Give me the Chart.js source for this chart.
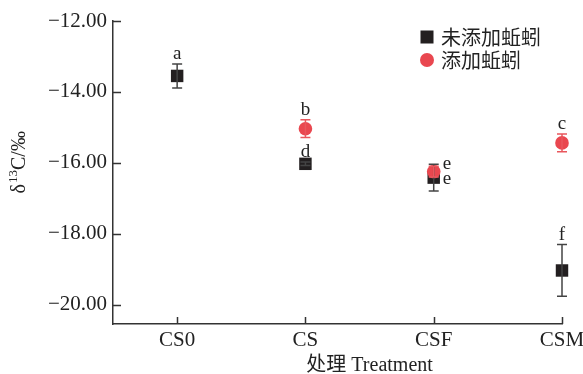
<!DOCTYPE html>
<html>
<head>
<meta charset="utf-8">
<script src="https://cdn.jsdelivr.net/npm/chart.js@4.4.1/dist/chart.umd.min.js"></script>
<style>
html, body { margin: 0; padding: 0; background: #fff; }
#wrap { width: 583px; height: 374px; }
</style>
</head>
<body>
<div id="wrap"><canvas id="deltaChart"></canvas></div>
<script>
var categories = ['CS0', 'CS', 'CSF', 'CSM'];
var yTicks = [-20, -18, -16, -14, -12];

// 未添加蚯蚓
var noWormMean = [-13.55, -16.03, -16.42, -19.04];
var noWormErr = [0.34, 0.05, 0.38, 0.73];
var noWormLetter = ['a', 'd', 'e', 'f'];

// 添加蚯蚓
var wormMean = [null, -15.04, -16.25, -15.44];
var wormErr = [null, 0.25, 0.15, 0.25];
var wormLetter = [null, 'b', 'e', 'c'];

var BLACK = '#231f20';
var RED = '#e9474f';
var AXIS = '#333333';
var SERIF = '"Liberation Serif", "Times New Roman", serif';
var CJK = '"Liberation Serif", "Noto Sans CJK SC", sans-serif';

function toPoints(values) {
    var pts = [];
    values.forEach(function (v, i) {
        if (v !== null) { pts.push({ x: i, y: v }); }
    });
    return pts;
}

// error bars, letters, inward ticks, axis titles, legend
var decorations = {
    id: 'decorations',
    afterDatasetsDraw: function (chart) {
        var ctx = chart.ctx;
        var xs = chart.scales.x, ys = chart.scales.y;
        chart.data.datasets.forEach(function (ds) {
            ds.means.forEach(function (m, i) {
                if (m === null) { return; }
                var px = xs.getPixelForValue(i);
                var top = ys.getPixelForValue(m + ds.errs[i]);
                var bot = ys.getPixelForValue(m - ds.errs[i]);
                ctx.save();
                ctx.strokeStyle = ds.barColor;
                ctx.lineWidth = 1.5;
                ctx.beginPath();
                ctx.moveTo(px, top); ctx.lineTo(px, bot);
                ctx.moveTo(px - 5, top); ctx.lineTo(px + 5, top);
                ctx.moveTo(px - 5, bot); ctx.lineTo(px + 5, bot);
                ctx.stroke();
                ctx.restore();
            });
        });
        // significance letters
        ctx.save();
        ctx.font = '19px ' + SERIF;
        ctx.fillStyle = '#222';
        chart.data.datasets.forEach(function (ds) {
            ds.letters.forEach(function (t, i) {
                if (!t) { return; }
                var px = xs.getPixelForValue(i);
                var py = ys.getPixelForValue(ds.means[i]);
                var top = ys.getPixelForValue(ds.means[i] + ds.errs[i]);
                if (categories[i] === 'CSF') {
                    ctx.textAlign = 'left';
                    ctx.textBaseline = 'alphabetic';
                    ctx.fillText(t, px + 9, ds.isWorm ? py - 3 : py + 6);
                } else {
                    ctx.textAlign = 'center';
                    ctx.textBaseline = 'alphabetic';
                    ctx.fillText(t, px, top - 5);
                }
            });
        });
        ctx.restore();
    },
    afterDraw: function (chart) {
        var ctx = chart.ctx;
        var xs = chart.scales.x, ys = chart.scales.y;
        var area = chart.chartArea;
        ctx.save();
        ctx.strokeStyle = AXIS;
        ctx.lineWidth = 1.5;
        ctx.beginPath();
        yTicks.forEach(function (v) {
            var py = Math.round(ys.getPixelForValue(v)) + 0.5;
            ctx.moveTo(area.left, py); ctx.lineTo(area.left + 8, py);
        });
        categories.forEach(function (c, i) {
            var px = Math.round(xs.getPixelForValue(i)) + 0.5;
            ctx.moveTo(px, area.bottom); ctx.lineTo(px, area.bottom - 7);
        });
        ctx.stroke();

        // x title
        ctx.fillStyle = '#222';
        ctx.font = '20px ' + CJK;
        ctx.textAlign = 'center';
        ctx.textBaseline = 'middle';
        ctx.fillText('处理 Treatment', xs.getPixelForValue(1.5), area.bottom + 42);

        // y title with superscript
        ctx.save();
        ctx.translate(20, ys.getPixelForValue(-16));
        ctx.rotate(-Math.PI / 2);
        ctx.textAlign = 'left';
        ctx.textBaseline = 'middle';
        var big = '20px ' + SERIF, small = '13px ' + SERIF;
        ctx.font = big;
        var w1 = ctx.measureText('δ').width;
        var w3 = ctx.measureText('C/‰').width;
        ctx.font = small;
        var w2 = ctx.measureText('13').width;
        var x0 = -(w1 + w2 + w3) / 2;
        ctx.font = big;
        ctx.fillText('δ', x0, 0);
        ctx.font = small;
        ctx.fillText('13', x0 + w1 + 1, -6);
        ctx.font = big;
        ctx.fillText('C/‰', x0 + w1 + w2 + 1, 0);
        ctx.restore();

        // legend
        var lx = area.right - 135, ly = area.top + 16;
        ctx.fillStyle = BLACK;
        ctx.fillRect(lx - 6.5, ly - 6.5, 13, 13);
        ctx.fillStyle = RED;
        ctx.beginPath();
        ctx.arc(lx, ly + 23, 7, 0, Math.PI * 2);
        ctx.fill();
        ctx.fillStyle = '#222';
        ctx.font = '20px "Noto Sans CJK SC", sans-serif';
        ctx.textAlign = 'left';
        ctx.textBaseline = 'middle';
        ctx.fillText('未添加蚯蚓', lx + 14, ly);
        ctx.fillText('添加蚯蚓', lx + 14, ly + 23);
        ctx.restore();
    }
};

var deltaChart = new Chart(document.getElementById('deltaChart'), {
    type: 'scatter',
    data: {
        datasets: [{
            label: '未添加蚯蚓',
            data: toPoints(noWormMean),
            means: noWormMean,
            errs: noWormErr,
            letters: noWormLetter,
            isWorm: false,
            barColor: '#444444',
            pointStyle: 'rect',
            pointRadius: 8.8,
            pointHoverRadius: 8.8,
            backgroundColor: BLACK,
            borderWidth: 0,
            clip: false,
            order: 1
        }, {
            label: '添加蚯蚓',
            data: toPoints(wormMean),
            means: wormMean,
            errs: wormErr,
            letters: wormLetter,
            isWorm: true,
            barColor: '#e9575d',
            pointStyle: 'circle',
            pointRadius: 6.8,
            pointHoverRadius: 6.8,
            backgroundColor: RED,
            borderWidth: 0,
            clip: false,
            order: 0
        }]
    },
    options: {
        responsive: true,
        maintainAspectRatio: false,
        animation: false,
        layout: { padding: { left: 0, right: 21, top: 21, bottom: 0 } },
        plugins: {
            legend: { display: false },
            tooltip: { enabled: false }
        },
        scales: {
            x: {
                type: 'linear',
                min: -0.5,
                max: 3,
                afterBuildTicks: function (s) {
                    s.ticks = categories.map(function (c, i) { return { value: i }; });
                },
                afterFit: function (s) {
                    s.height = 50;
                    s.paddingLeft = 0;
                    s.paddingRight = 0;
                },
                grid: { drawOnChartArea: false, drawTicks: false },
                border: { color: AXIS, width: 1.5 },
                ticks: {
                    padding: 4,
                    color: '#222',
                    font: { family: SERIF, size: 21 },
                    callback: function (v) { return categories[v]; }
                }
            },
            y: {
                min: -20.55,
                max: -12,
                afterBuildTicks: function (s) {
                    s.ticks = yTicks.map(function (v) { return { value: v }; });
                },
                afterFit: function (s) {
                    s.width = 113;
                    s.paddingTop = 0;
                    s.paddingBottom = 0;
                },
                grid: { drawOnChartArea: false, drawTicks: false },
                border: { color: AXIS, width: 1.5 },
                ticks: {
                    padding: 6,
                    color: '#222',
                    font: { family: SERIF, size: 21 },
                    callback: function (v) { return '\u2212' + Math.abs(v).toFixed(2); }
                }
            }
        }
    },
    plugins: [decorations]
});
</script>
</body>
</html>
